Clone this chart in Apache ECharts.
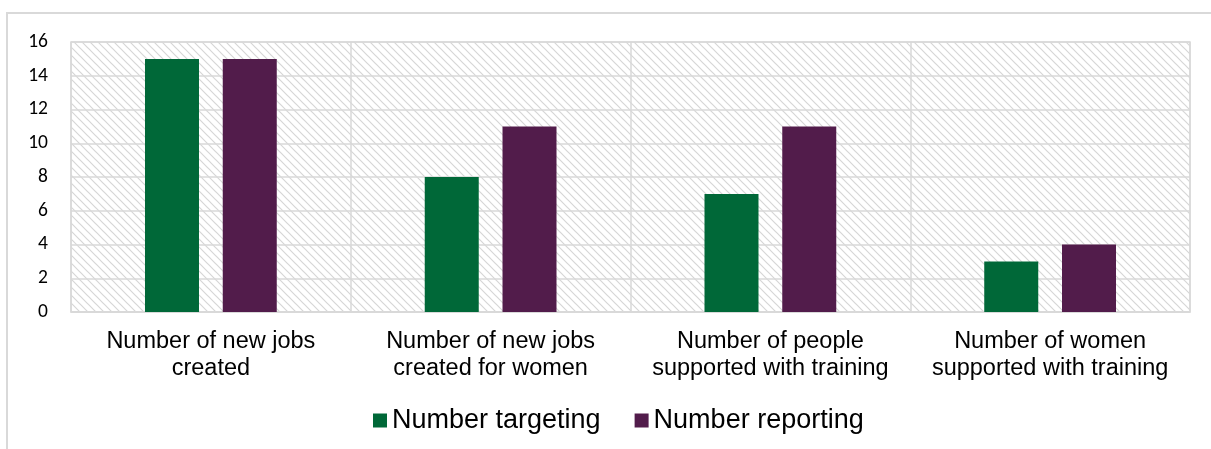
<!DOCTYPE html>
<html>
<head>
<meta charset="utf-8">
<script src="https://cdn.jsdelivr.net/npm/echarts@6/dist/echarts.min.js"></script>
<style>
  html, body { margin: 0; padding: 0; background: #fff; }
  #chart { width: 1211px; height: 449px; }
</style>
</head>
<body>
<div id="chart"></div>
<script>
// Indicator categories and values
const categories = [
  'Number of new jobs\ncreated',
  'Number of new jobs\ncreated for women',
  'Number of people\nsupported with training',
  'Number of women\nsupported with training'
];
const targeting = [15, 8, 7, 3];
const reporting = [15, 11, 11, 4];
const seriesNames = ['Number targeting', 'Number reporting'];

// Diagonal hatch tile for the plot background
function hatchTile() {
  const c = document.createElement('canvas');
  c.width = 8; c.height = 8;
  const g = c.getContext('2d');
  g.fillStyle = '#ffffff';
  g.fillRect(0, 0, 8, 8);
  g.strokeStyle = '#d6d6d6';
  g.lineWidth = 1.2;
  g.beginPath();
  g.moveTo(-1, -1); g.lineTo(9, 9);
  g.moveTo(-1, 7); g.lineTo(1, 9);
  g.moveTo(7, -1); g.lineTo(9, 1);
  g.stroke();
  return c;
}

const chart = echarts.init(document.getElementById('chart'), null, { renderer: 'canvas' });
chart.setOption({
  animation: false,
  graphic: [{
    type: 'rect',
    shape: { x: 7, y: 13, width: 1400, height: 600 },
    style: { fill: 'none', stroke: '#d9d9d9', lineWidth: 2 },
    silent: true,
    z: -10
  }],
  grid: {
    left: 71, right: 21, top: 42, bottom: 137,
    show: true,
    backgroundColor: { image: hatchTile(), repeat: 'repeat' },
    borderColor: '#d9d9d9',
    borderWidth: 1.5
  },
  legend: {
    data: seriesNames,
    bottom: 10,
    left: 368,
    itemWidth: 14,
    itemHeight: 14,
    itemGap: 34,
    icon: 'rect',
    textStyle: { fontFamily: 'Liberation Sans, Arial, sans-serif', fontSize: 27, color: '#000' }
  },
  xAxis: {
    type: 'category',
    data: categories,
    axisTick: { show: false },
    axisLine: { lineStyle: { color: '#d9d9d9', width: 1.5 } },
    splitLine: { show: true, lineStyle: { color: '#d9d9d9', width: 1.5 } },
    axisLabel: {
      interval: 0,
      margin: 16,
      fontFamily: 'Liberation Sans, Arial, sans-serif',
      fontSize: 23.5,
      lineHeight: 27,
      color: '#000'
    }
  },
  yAxis: {
    type: 'value',
    min: 0, max: 16, interval: 2,
    axisLine: { show: false },
    axisTick: { show: false },
    splitLine: { lineStyle: { color: '#d9d9d9', width: 1.5 } },
    axisLabel: {
      margin: 23,
      fontFamily: 'Carlito, Calibri, Lato, sans-serif',
      fontSize: 19.5,
      color: '#000'
    }
  },
  series: [
    {
      name: seriesNames[0], type: 'bar', data: targeting,
      barWidth: 54, barGap: '44%',
      itemStyle: { color: '#006838' }
    },
    {
      name: seriesNames[1], type: 'bar', data: reporting,
      barWidth: 54,
      itemStyle: { color: '#521c4b' }
    }
  ]
});
</script>
</body>
</html>
